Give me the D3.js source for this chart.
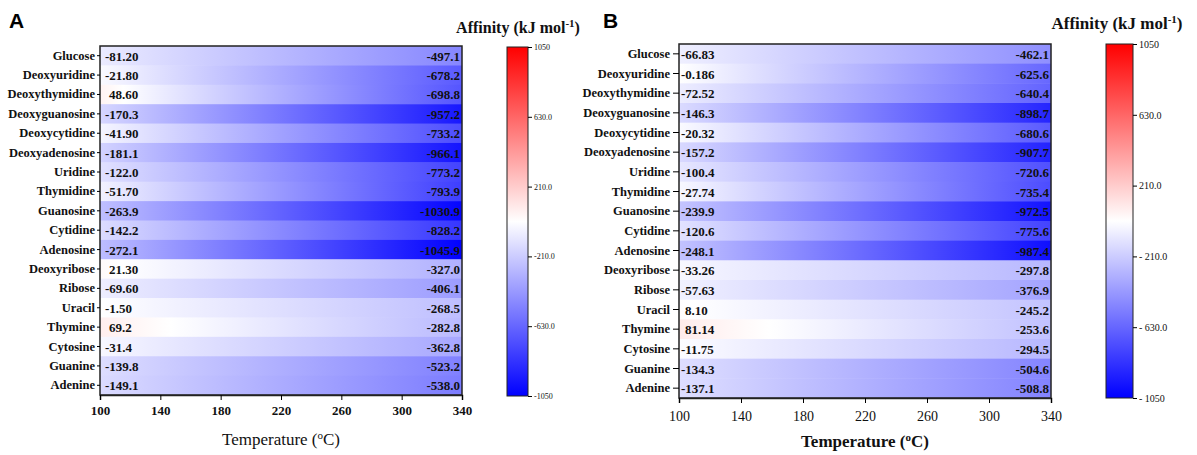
<!DOCTYPE html>
<html>
<head>
<meta charset="utf-8">
<script src="https://cdn.jsdelivr.net/npm/d3@7"></script>
<style>
  body { margin: 0; background: #fff; }
  text { font-family: "Liberation Serif", "Times New Roman", serif; }
  text.letter { font-family: "Liberation Sans", Arial, sans-serif; }
</style>
</head>
<body>
<svg id="scene" width="1197" height="455"></svg>
<script>
// compounds (rows, top to bottom)
let compounds = ["Glucose", "Deoxyuridine", "Deoxythymidine", "Deoxyguanosine", "Deoxycytidine",
    "Deoxyadenosine", "Uridine", "Thymidine", "Guanosine", "Cytidine", "Adenosine",
    "Deoxyribose", "Ribose", "Uracil", "Thymine", "Cytosine", "Guanine", "Adenine"];

// panel A, affinity at 100 and 340 C
let a100 = ["-81.20", "-21.80", "48.60", "-170.3", "-41.90", "-181.1", "-122.0", "-51.70", "-263.9",
    "-142.2", "-272.1", "21.30", "-69.60", "-1.50", "69.2", "-31.4", "-139.8", "-149.1"];
let a340 = ["-497.1", "-678.2", "-698.8", "-957.2", "-733.2", "-966.1", "-773.2", "-793.9", "-1030.9",
    "-828.2", "-1045.9", "-327.0", "-406.1", "-268.5", "-282.8", "-362.8", "-523.2", "-538.0"];

// panel B, affinity at 100 and 340 C
let b100 = ["-66.83", "-0.186", "-72.52", "-146.3", "-20.32", "-157.2", "-100.4", "-27.74", "-239.9",
    "-120.6", "-248.1", "-33.26", "-57.63", "8.10", "81.14", "-11.75", "-134.3", "-137.1"];
let b340 = ["-462.1", "-625.6", "-640.4", "-898.7", "-680.6", "-907.7", "-720.6", "-735.4", "-972.5",
    "-775.6", "-987.4", "-297.8", "-376.9", "-245.2", "-253.6", "-294.5", "-504.6", "-508.8"];

let tempTicks = [100, 140, 180, 220, 260, 300, 340];
let legendTicks = [1050, 630, 210, -210, -630, -1050];
let legendLabelsA = ["1050", "630.0", "210.0", "-210.0", "-630.0", "-1050"];
let legendLabelsB = ["1050", "630.0", "210.0", "- 210.0", "- 630.0", "- 1050"];

let svg = d3.select('#scene');
let defs = svg.append('defs');
let color = d3.scaleLinear().domain([-1050, 0, 1050]).range(["#0000ff", "#ffffff", "#ff0000"]);

function panel(p) {
    let x = d3.scaleLinear().domain([100, 340]).range([p.left, p.right]);
    let y = d3.scaleBand().domain(compounds).range([p.top, p.bottom]);
    let rows = compounds.map((c, i) => ({name: c, s0: p.v0[i], s1: p.v1[i], v0: +p.v0[i], v1: +p.v1[i]}));

    // one gradient per row, from the 100 C value to the 340 C value
    rows.forEach((d, i) => {
        let g = defs.append('linearGradient').attr('id', p.id + 'g' + i)
            .attr('x1', 0).attr('x2', 1).attr('y1', 0).attr('y2', 0);
        g.append('stop').attr('offset', 0).attr('stop-color', color(d.v0));
        if (d.v0 > 0 && d.v1 < 0) {
            g.append('stop').attr('offset', d.v0 / (d.v0 - d.v1)).attr('stop-color', color(0));
        }
        g.append('stop').attr('offset', 1).attr('stop-color', color(d.v1));
    });

    svg.append('g').selectAll('rect')
        .data(rows)
        .enter()
        .append('rect')
        .attr('x', x(100))
        .attr('y', d => y(d.name))
        .attr('width', x(340) - x(100))
        .attr('height', y.bandwidth() + 0.5)
        .attr('fill', (d, i) => `url(#${p.id}g${i})`);

    let labels = svg.append('g').attr('font-weight', 'bold').attr('font-size', '13px').attr('fill', '#111');
    labels.selectAll('text.l')
        .data(rows)
        .enter()
        .append('text')
        .attr('class', 'l')
        .attr('x', d => x(100) + p.leftPad + (d.v0 >= 0 ? 4 : 0))
        .attr('y', d => y(d.name) + y.bandwidth() / 2 + 5)
        .text(d => d.s0);
    labels.selectAll('text.r')
        .data(rows)
        .enter()
        .append('text')
        .attr('class', 'r')
        .attr('x', x(340) - 2)
        .attr('y', d => y(d.name) + y.bandwidth() / 2 + 5)
        .attr('text-anchor', 'end')
        .text(d => d.s1);

    // frame
    svg.append('rect')
        .attr('x', p.left).attr('y', p.top)
        .attr('width', p.right - p.left).attr('height', p.bottom - p.top)
        .attr('fill', 'none').attr('stroke', '#222').attr('stroke-width', 1.5);

    let yAxis = svg.append('g')
        .attr('transform', `translate(${p.left},0)`)
        .call(d3.axisLeft(y).tickSize(p.ytick).tickPadding(p.ypad));
    yAxis.select('.domain').remove();
    yAxis.selectAll('text')
        .attr('font-size', '12.5px').attr('font-weight', 'bold').attr('fill', '#111');

    let xAxis = svg.append('g')
        .attr('transform', `translate(0,${p.bottom})`)
        .call(d3.axisBottom(x).tickValues(tempTicks).tickSize(5).tickPadding(p.xpad));
    xAxis.select('.domain').attr('stroke', '#222').attr('stroke-width', 1.5);
    xAxis.selectAll('text')
        .attr('font-size', p.xfs).attr('font-weight', p.xfw).attr('fill', '#111');

    svg.append('text')
        .attr('x', (p.left + p.right) / 2)
        .attr('y', p.titleY)
        .attr('text-anchor', 'middle')
        .attr('font-size', '17px')
        .attr('font-weight', p.titleW)
        .attr('fill', '#111')
        .html('Temperature (<tspan dy="-6" font-size="11px">o</tspan><tspan dy="6">C)</tspan>');

    svg.append('text')
        .attr('class', 'letter')
        .attr('x', p.letterX).attr('y', 28)
        .attr('font-size', '21px').attr('font-weight', 'bold')
        .text(p.letter);

    // colour legend
    let ly = d3.scaleLinear().domain([1050, -1050]).range([p.lTop, p.lBottom]);
    let lg = defs.append('linearGradient').attr('id', p.id + 'leg')
        .attr('x1', 0).attr('x2', 0).attr('y1', 0).attr('y2', 1);
    color.domain().slice().reverse().forEach((v, i) => {
        lg.append('stop').attr('offset', i / 2).attr('stop-color', color(v));
    });
    svg.append('rect')
        .attr('x', p.lLeft).attr('y', p.lTop)
        .attr('width', p.lWidth).attr('height', p.lBottom - p.lTop)
        .attr('fill', `url(#${p.id}leg)`)
        .attr('stroke', '#222').attr('stroke-width', 1);
    let lAxis = svg.append('g')
        .attr('transform', `translate(${p.lLeft + p.lWidth},0)`)
        .call(d3.axisRight(ly).tickValues(legendTicks).tickSize(4).tickPadding(2)
            .tickFormat((d, i) => p.legLabels[i]));
    lAxis.select('.domain').remove();
    lAxis.selectAll('text')
        .attr('font-size', p.lfs).attr('fill', '#111');

    svg.append('text')
        .attr('x', p.lTitleX).attr('y', p.lTitleY)
        .attr('text-anchor', 'middle')
        .attr('font-size', p.lTitleFs)
        .attr('font-weight', 'bold')
        .attr('fill', '#111')
        .html('Affinity (kJ mol<tspan dy="-6" font-size="11px">-1</tspan><tspan dy="6">)</tspan>');
}

onload = function () {
    panel({
        id: 'A', letter: 'A', letterX: 9, v0: a100, v1: a340,
        left: 100, right: 462, top: 46, bottom: 395,
        leftPad: 5, ytick: 3, ypad: 2, xpad: 6, xfs: '13px', xfw: 'bold',
        titleY: 445, titleW: 'normal',
        lLeft: 507, lWidth: 21, lTop: 47, lBottom: 396, lfs: '8px', legLabels: legendLabelsA,
        lTitleX: 518, lTitleY: 33, lTitleFs: '16px'
    });
    panel({
        id: 'B', letter: 'B', letterX: 603, v0: b100, v1: b340,
        left: 679, right: 1051, top: 44, bottom: 398,
        leftPad: 2, ytick: 6, ypad: 3, xpad: 8, xfs: '14px', xfw: 'normal',
        titleY: 447, titleW: 'bold',
        lLeft: 1106, lWidth: 27, lTop: 44, lBottom: 398, lfs: '10px', legLabels: legendLabelsB,
        lTitleX: 1117, lTitleY: 29, lTitleFs: '17px'
    });
}
</script>
</body>
</html>
